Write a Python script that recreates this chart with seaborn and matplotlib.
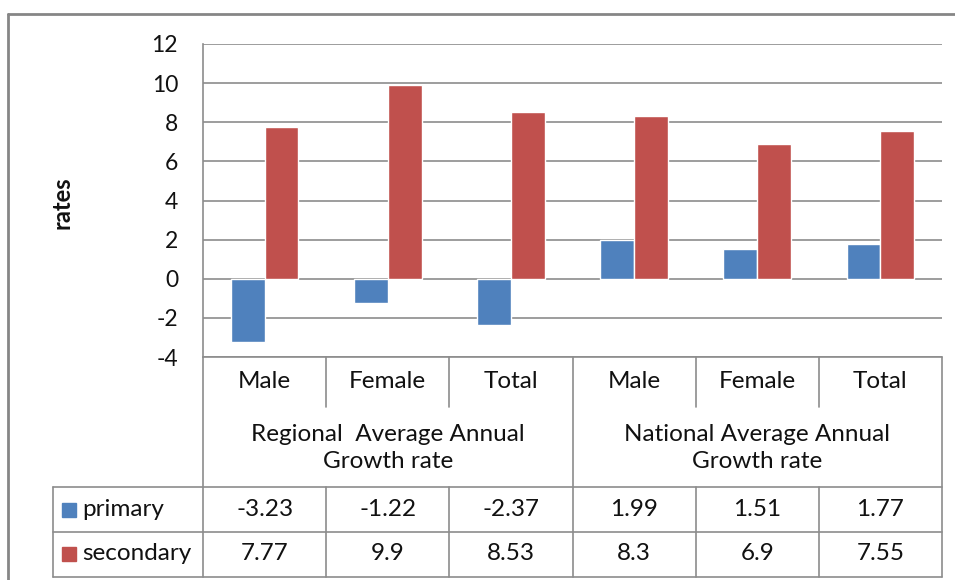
import pandas as pd
import seaborn as sns
import matplotlib.pyplot as plt
from matplotlib.lines import Line2D
from matplotlib.patches import Rectangle

# data
groups = ["Regional  Average Annual\nGrowth rate", "National Average Annual\nGrowth rate"]
categories = ["Male", "Female", "Total"]
series = ["primary", "secondary"]
primary = [-3.23, -1.22, -2.37, 1.99, 1.51, 1.77]
secondary = [7.77, 9.9, 8.53, 8.3, 6.9, 7.55]
colors = ["#4F81BD", "#C0504D"]

W, H = 955, 580
sns.set_theme(style="white")
plt.rcParams["font.family"] = ["Lato", "DejaVu Sans"]
plt.rcParams["axes.unicode_minus"] = False
FS = 17.5
TXT = "#111111"

keys = [f"{g[:3]}-{c}" for g in groups for c in categories]
df = pd.DataFrame({
    "key": keys * 2,
    "series": [series[0]] * 6 + [series[1]] * 6,
    "value": primary + secondary,
})

fig = plt.figure(figsize=(W / 100, H / 100), dpi=100)


def fx(px):
    return px / W


def fy(py):
    return 1 - py / H


L, R, T, B = 203, 942, 44, 357
ax = fig.add_axes([fx(L), fy(B), fx(R) - fx(L), fy(T) - fy(B)])
sns.barplot(data=df, x="key", y="value", hue="series", order=keys,
            palette=colors, width=0.55, saturation=1, legend=False, ax=ax)
ax.set_ylim(-4, 12)
ax.set_yticks(range(-4, 13, 2))
ax.set_xlim(-0.5, 5.5)
ax.set_xticks([])
ax.set_xlabel("")
ax.set_ylabel("")
ax.yaxis.grid(True, color="#8C8C8C", lw=1.2)
ax.set_axisbelow(True)
for s in ["top", "right", "bottom"]:
    ax.spines[s].set_visible(False)
ax.spines["left"].set_color("#8C8C8C")
ax.spines["left"].set_linewidth(1.2)
ax.tick_params(axis="y", length=0, pad=18, labelsize=16.5, labelcolor=TXT)

fig.text(fx(62), fy(203), "rates", rotation=90, ha="center", va="center",
         fontsize=17, fontweight="bold", color=TXT)


def hline(x0, x1, y):
    fig.add_artist(Line2D([fx(x0), fx(x1)], [fy(y), fy(y)], color="#8C8C8C", lw=1.2))


def vline(x, y0, y1):
    fig.add_artist(Line2D([fx(x), fx(x)], [fy(y0), fy(y1)], color="#8C8C8C", lw=1.2))


# outer chart border
fig.add_artist(Line2D([fx(8), fx(W)], [fy(14), fy(14)], color="#868686", lw=2))
fig.add_artist(Line2D([fx(8), fx(8)], [fy(14), fy(H)], color="#868686", lw=2))

# data table
col = [L + i * (R - L) / 6 for i in range(7)]
y_cat, y_grp, y_r1, y_r2 = 357, 407, 487, 532
y_end = 577
for x in [col[0], col[3], col[6]]:
    vline(x, y_cat, y_end)
for x in [col[1], col[2], col[4], col[5]]:
    vline(x, y_cat, y_grp)
    vline(x, y_r1, y_end)
vline(53, y_r1, y_end)
hline(L, R, y_cat)
for y in [y_r1, y_r2, y_end]:
    hline(53, R, y)

for i, k in enumerate(keys):
    cx = (col[i] + col[i + 1]) / 2
    fig.text(fx(cx), fy(382), categories[i % 3], ha="center", va="center",
             fontsize=FS, color=TXT)
    fig.text(fx(cx), fy(510), f"{primary[i]:g}", ha="center", va="center",
             fontsize=FS, color=TXT)
    fig.text(fx(cx), fy(554), f"{secondary[i]:g}", ha="center", va="center",
             fontsize=FS, color=TXT)
for j, g in enumerate(groups):
    cx = (col[3 * j] + col[3 * j + 3]) / 2
    fig.text(fx(cx), fy(448), g, ha="center", va="center", fontsize=FS,
             color=TXT, linespacing=1.4)

for name, c, yc in zip(series, colors, [510, 554]):
    fig.add_artist(Rectangle((fx(62), fy(yc + 7)), fx(14), fy(0) - fy(14),
                             color=c, transform=fig.transFigure))
    fig.text(fx(82), fy(yc), name, ha="left", va="center", fontsize=FS,
             color=TXT)

fig.savefig("out.png", dpi=100)
